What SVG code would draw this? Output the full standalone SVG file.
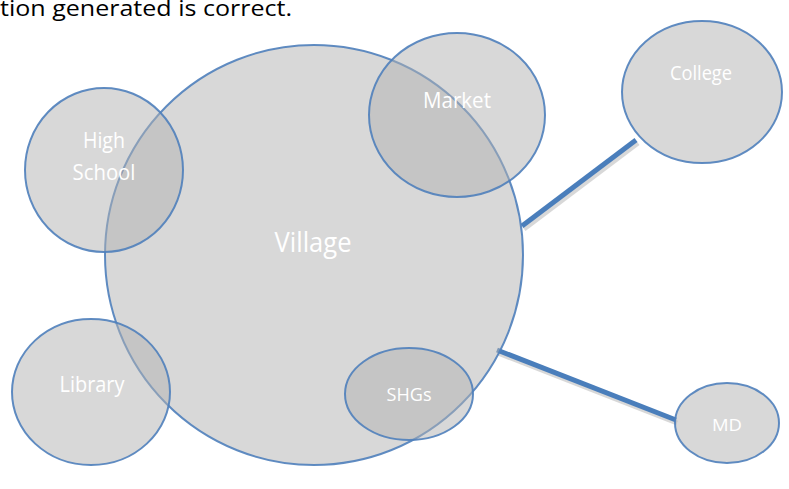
<svg xmlns="http://www.w3.org/2000/svg" width="789" height="489" viewBox="0 0 789 489">
<style>
.n{fill:#b1b1b1;fill-opacity:0.5;stroke:#4f7fbb;stroke-width:2;stroke-opacity:0.9}
.t{fill:#ffffff;font-family:"Open Sans","Liberation Sans",sans-serif;text-anchor:middle}
.c{stroke:#4a7ebb;stroke-width:5;stroke-linecap:butt}
.s{stroke:#7f7f7f;stroke-width:5;stroke-opacity:0.3}
</style>
<rect width="789" height="489" fill="#ffffff"/>
<text x="0" y="16" font-family="'Open Sans','Liberation Sans',sans-serif" font-size="21" fill="#000000" textLength="292" lengthAdjust="spacingAndGlyphs">tion generated is correct.</text>
<g id="connectors">
<line class="s" x1="524" y1="229" x2="638" y2="143"/>
<line class="s" x1="498" y1="353" x2="677" y2="423"/>
<line class="c" x1="522" y1="226" x2="636" y2="140"/>
<line class="c" x1="497" y1="350" x2="676" y2="420"/>
</g>
<g id="village"><ellipse class="n" cx="314" cy="255" rx="209" ry="210"/><text class="t" x="313" y="252" font-size="27" textLength="77" lengthAdjust="spacingAndGlyphs">Village</text></g>
<g id="highschool"><ellipse class="n" cx="104" cy="170" rx="79" ry="82"/><text class="t" x="104" y="148" font-size="21" textLength="42" lengthAdjust="spacingAndGlyphs">High</text><text class="t" x="104" y="180" font-size="21" textLength="63" lengthAdjust="spacingAndGlyphs">School</text></g>
<g id="market"><ellipse class="n" cx="457" cy="115" rx="88" ry="82"/><text class="t" x="457" y="108" font-size="21" textLength="68" lengthAdjust="spacingAndGlyphs">Market</text></g>
<g id="college"><ellipse class="n" cx="702" cy="92" rx="80" ry="71"/><text class="t" x="701" y="80" font-size="19.5" textLength="62" lengthAdjust="spacingAndGlyphs">College</text></g>
<g id="library"><ellipse class="n" cx="91" cy="392" rx="79" ry="73"/><text class="t" x="92" y="392" font-size="21" textLength="65" lengthAdjust="spacingAndGlyphs">Library</text></g>
<g id="shgs"><ellipse class="n" cx="409" cy="394" rx="64" ry="46"/><text class="t" x="409" y="401" font-size="19" textLength="45" lengthAdjust="spacingAndGlyphs">SHGs</text></g>
<g id="md"><ellipse class="n" cx="727" cy="423" rx="52" ry="40"/><text class="t" x="727" y="431" font-size="16.5" textLength="30" lengthAdjust="spacingAndGlyphs">MD</text></g>
</svg>
